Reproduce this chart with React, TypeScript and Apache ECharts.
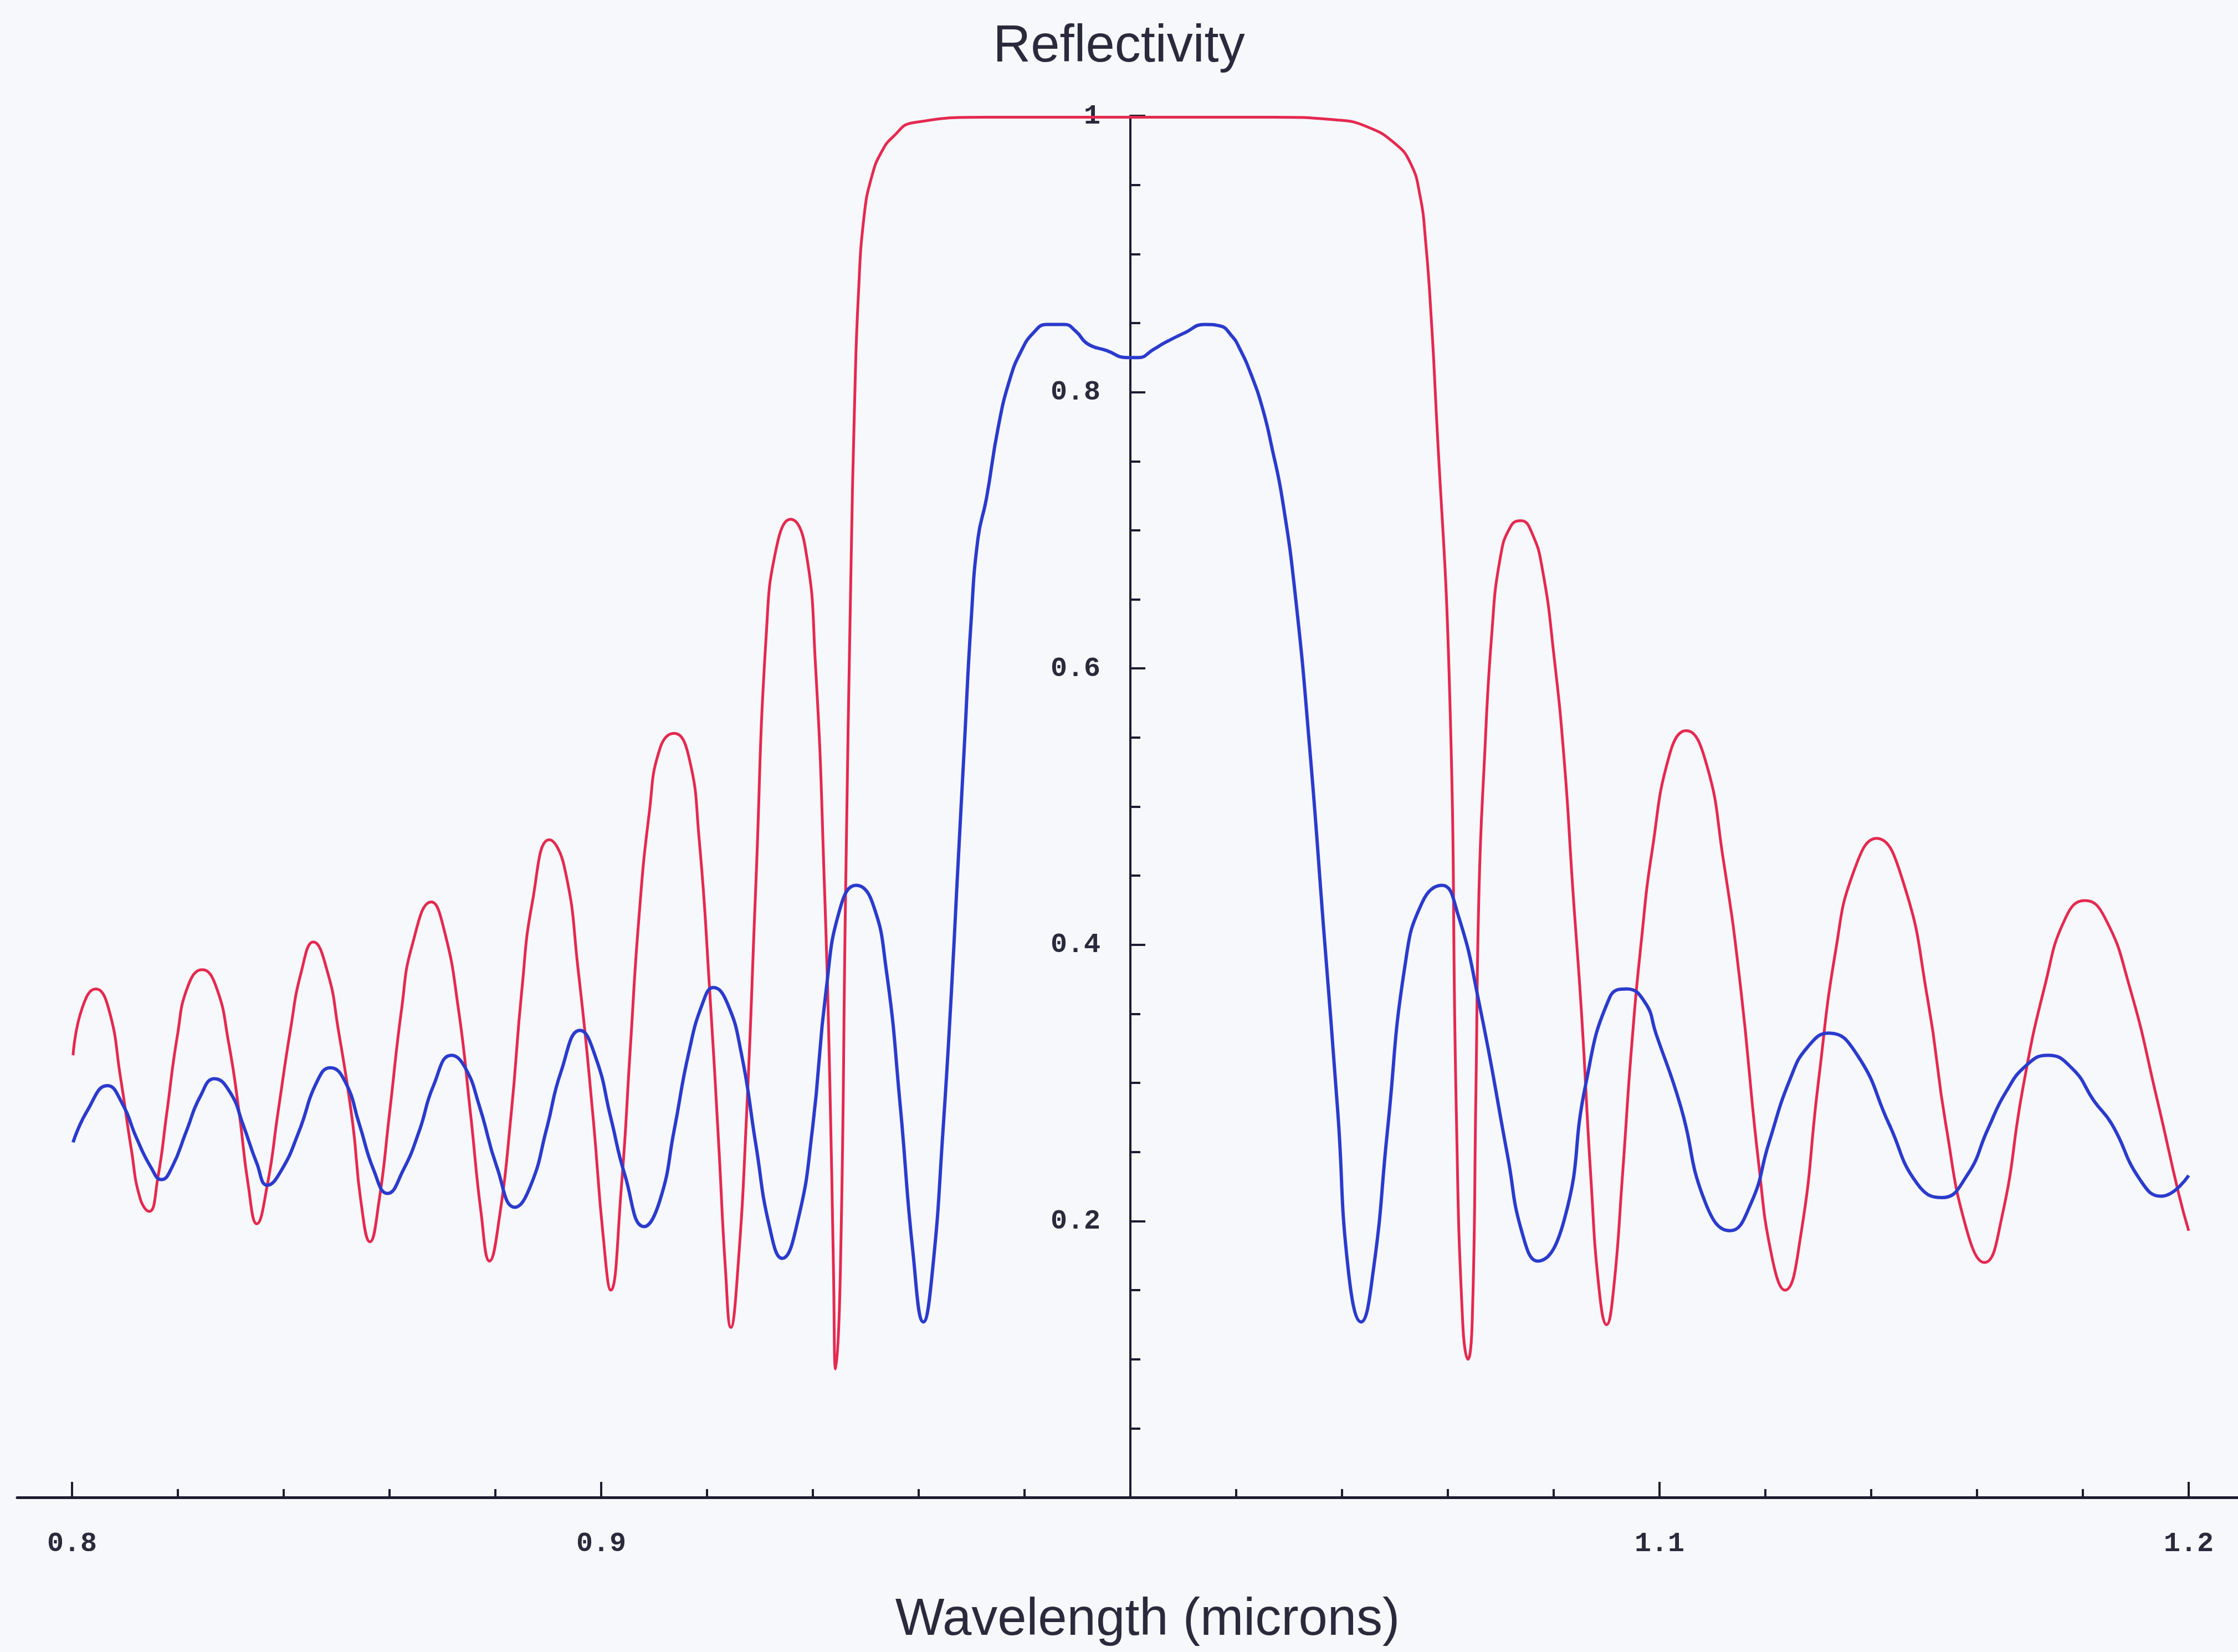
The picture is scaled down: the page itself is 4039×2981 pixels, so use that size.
import React, { useEffect, useRef } from "react";
import * as echarts from "echarts";

// ---------- data (wavelength in microns, reflectivity) ----------
const redCurve: number[][] = [
  [0.8002, 0.320], [0.8019, 0.354], [0.8045, 0.368], [0.8069, 0.354], [0.8092, 0.303], [0.8112, 0.252], [0.8129, 0.216], [0.8146, 0.207],
  [0.8162, 0.231], [0.8179, 0.278], [0.8199, 0.334], [0.8219, 0.370], [0.8246, 0.382], [0.8272, 0.370], [0.8296, 0.329], [0.8316, 0.278],
  [0.8333, 0.226], [0.8349, 0.198], [0.8369, 0.226], [0.8389, 0.278], [0.8413, 0.339], [0.8433, 0.380], [0.8456, 0.402], [0.8483, 0.380],
  [0.8503, 0.339], [0.8530, 0.272], [0.8546, 0.214], [0.8563, 0.185], [0.8580, 0.214], [0.8600, 0.278], [0.8623, 0.354], [0.8643, 0.400],
  [0.8679, 0.431], [0.8703, 0.411], [0.8730, 0.354], [0.8753, 0.278], [0.8773, 0.206], [0.8789, 0.171], [0.8807, 0.201], [0.8830, 0.278],
  [0.8850, 0.367], [0.8870, 0.431], [0.8902, 0.476], [0.8930, 0.457], [0.8957, 0.380], [0.8984, 0.278], [0.9004, 0.188],
  [0.9018, 0.150], [0.9038, 0.224], [0.9055, 0.325], [0.9071, 0.418], [0.9091, 0.496], [0.9111, 0.542], [0.9138, 0.553], [0.9165, 0.537],
  [0.9185, 0.477], [0.9205, 0.367], [0.9222, 0.256], [0.9235, 0.164], [0.9245, 0.123], [0.9258, 0.164], [0.9275, 0.279], [0.9292, 0.441],
  [0.9312, 0.625], [0.9332, 0.689], [0.9358, 0.708], [0.9385, 0.689], [0.9405, 0.602], [0.9422, 0.441], [0.9432, 0.302], [0.9439, 0.164],
  [0.9443, 0.093], [0.9452, 0.164], [0.9462, 0.441], [0.9472, 0.671],
  [0.9479, 0.794], [0.9486, 0.870], [0.9497, 0.928], [0.9512, 0.957], [0.9530, 0.974], [0.9552, 0.985], [0.9589, 0.995], [0.9728, 0.999],
  [1.0265, 0.999], [1.0390, 0.997], [1.0448, 0.992], [1.0500, 0.980], [1.0529, 0.966], [1.0547, 0.943], [1.0558, 0.909], [1.0569, 0.851],
  [1.0577, 0.794],
  [1.0603, 0.588], [1.0616, 0.279], [1.0628, 0.127], [1.0638, 0.100], [1.0646, 0.127], [1.0653, 0.293], [1.0659, 0.441], [1.0669, 0.533],
  [1.0683, 0.625], [1.0699, 0.680], [1.0719, 0.703], [1.0738, 0.707], [1.0759, 0.698], [1.0779, 0.671], [1.0800, 0.611], [1.0820, 0.533],
  [1.0836, 0.441], [1.0853, 0.348], [1.0870, 0.233], [1.0886, 0.150], [1.0900, 0.125], [1.0913, 0.150], [1.0930, 0.233], [1.0947, 0.325],
  [1.0966, 0.404], [1.0986, 0.468],
  [1.1020, 0.539], [1.1050, 0.555], [1.1087, 0.533], [1.1120, 0.463], [1.1153, 0.370], [1.1187, 0.243], [1.1213, 0.173], [1.1237, 0.150],
  [1.1267, 0.190], [1.1300, 0.300], [1.1333, 0.396], [1.1367, 0.453], [1.1410, 0.477], [1.1460, 0.446], [1.1507, 0.360], [1.1541, 0.270],
  [1.1581, 0.193], [1.1614, 0.170], [1.1647, 0.203], [1.1687, 0.297], [1.1728, 0.370], [1.1768, 0.420], [1.1804, 0.432], [1.1841, 0.420],
  [1.1888, 0.370], [1.1941, 0.287], [1.1981, 0.220], [1.2000, 0.193],
];

const blueCurve: number[][] = [
  [0.8002, 0.257], [0.8029, 0.280], [0.8067, 0.298], [0.8095, 0.285], [0.8122, 0.260], [0.8149, 0.239], [0.8169, 0.230], [0.8189, 0.239],
  [0.8216, 0.265], [0.8242, 0.290], [0.8269, 0.303], [0.8299, 0.293], [0.8323, 0.270], [0.8349, 0.242], [0.8369, 0.226], [0.8396, 0.237],
  [0.8429, 0.265], [0.8463, 0.301], [0.8488, 0.311], [0.8516, 0.301], [0.8543, 0.270], [0.8570, 0.237], [0.8596, 0.220], [0.8626, 0.237],
  [0.8656, 0.265], [0.8683, 0.298], [0.8717, 0.320], [0.8743, 0.311], [0.8770, 0.283], [0.8803, 0.239], [0.8837, 0.210], [0.8867, 0.226],
  [0.8897, 0.267], [0.8924, 0.308], [0.8960, 0.338], [0.8990, 0.318],
  [0.9018, 0.275], [0.9045, 0.233], [0.9081, 0.196], [0.9111, 0.215], [0.9138, 0.266], [0.9165, 0.321], [0.9192, 0.358], [0.9212, 0.369],
  [0.9238, 0.358], [0.9265, 0.321], [0.9292, 0.256], [0.9318, 0.196], [0.9342, 0.173], [0.9372, 0.201], [0.9399, 0.266], [0.9425, 0.367],
  [0.9452, 0.427], [0.9482, 0.443], [0.9512, 0.431], [0.9539, 0.381], [0.9565, 0.284], [0.9589, 0.178], [0.9609, 0.127], [0.9626, 0.164],
  [0.9646, 0.266], [0.9662, 0.367], [0.9672, 0.441], [0.9686, 0.542], [0.9699, 0.634], [0.9712, 0.694],
  [0.9728, 0.723], [0.9750, 0.774], [0.9772, 0.809], [0.9794, 0.830], [0.9817, 0.843], [0.9842, 0.849], [0.9875, 0.849], [0.9897, 0.844],
  [0.9919, 0.835], [0.9956, 0.830], [0.9993, 0.825], [1.0015, 0.825], [1.0044, 0.831], [1.0066, 0.836], [1.0103, 0.843], [1.0140, 0.849],
  [1.0169, 0.848], [1.0191, 0.841], [1.0206, 0.832], [1.0228, 0.813], [1.0250, 0.788], [1.0268, 0.759], [1.0287, 0.723],
  [1.0312, 0.652], [1.0339, 0.542], [1.0365, 0.413], [1.0392, 0.279], [1.0412, 0.164], [1.0436, 0.127], [1.0459, 0.164], [1.0486, 0.266],
  [1.0519, 0.385], [1.0552, 0.431], [1.0589, 0.443], [1.0619, 0.422], [1.0659, 0.358], [1.0713, 0.247], [1.0740, 0.192], [1.0770, 0.171],
  [1.0820, 0.201], [1.0860, 0.298], [1.0906, 0.362], [1.0938, 0.368], [1.0973, 0.358],
  [1.0993, 0.336], [1.1040, 0.283], [1.1087, 0.213], [1.1133, 0.193], [1.1173, 0.213], [1.1207, 0.257], [1.1247, 0.303], [1.1280, 0.326],
  [1.1320, 0.336], [1.1374, 0.320], [1.1434, 0.270], [1.1487, 0.227], [1.1534, 0.217], [1.1581, 0.233], [1.1621, 0.267], [1.1654, 0.293],
  [1.1694, 0.313], [1.1734, 0.320], [1.1781, 0.310], [1.1821, 0.287], [1.1855, 0.270], [1.1908, 0.230], [1.1948, 0.218], [1.2000, 0.233],
];

const xRange = [0.8, 1.2];
const xTickStep = 0.1;
const yRange = [0, 1];
const yTickStep = 0.2;
const yAxisAt = 1.0; // vertical axis crosses at this wavelength
const titleText = "Reflectivity";
const xAxisTitle = "Wavelength (microns)";

// ---------- layout ----------
const W = 4039;
const H = 2981;
const GRID_LEFT = 130;
const GRID_W = 3820;
const GRID_TOP = 209;
const GRID_H = 2493;
const LINE_LEFT = 31; // extended x-axis line
const LINE_RIGHT = W;
const AXIS_COLOR = "#1d1d30";
const TEXT_COLOR = "#2a2a3c";
const BG = "#f6f8fc";
const RED = "#e5294f";
const BLUE = "#2b3bcc";

export default function App() {
  const ref = useRef<HTMLDivElement>(null);
  useEffect(() => {
    if (!ref.current) return;
    const chart = echarts.init(ref.current, undefined, { renderer: "svg" });
    const pxPerUnit = GRID_W / (xRange[1] - xRange[0]);
    const lineMin = xRange[0] - (GRID_LEFT - LINE_LEFT) / pxPerUnit;
    const lineMax = xRange[1] + (LINE_RIGHT - (GRID_LEFT + GRID_W)) / pxPerUnit;
    const yOffset = -((yAxisAt - xRange[0]) / (xRange[1] - xRange[0])) * GRID_W;
    const tickFont = {
      fontFamily: "Liberation Mono",
      fontWeight: "bold" as const,
      fontSize: 50,
      color: TEXT_COLOR,
    };
    chart.setOption({
      animation: false,
      backgroundColor: BG,
      title: {
        text: titleText,
        left: "center",
        top: 26,
        textStyle: {
          fontFamily: "Liberation Sans",
          fontWeight: "normal",
          fontSize: 94,
          color: TEXT_COLOR,
        },
      },
      grid: [
        { left: GRID_LEFT, top: GRID_TOP, width: GRID_W, height: GRID_H },
        { left: LINE_LEFT, top: GRID_TOP, width: LINE_RIGHT - LINE_LEFT, height: GRID_H },
      ],
      xAxis: [
        {
          type: "value",
          gridIndex: 0,
          min: xRange[0],
          max: xRange[1],
          interval: xTickStep,
          axisLine: { show: true, onZero: false, lineStyle: { color: AXIS_COLOR, width: 5 } },
          axisTick: { show: true, inside: true, length: 28, lineStyle: { color: AXIS_COLOR, width: 4 } },
          minorTick: { show: true, splitNumber: 5, length: 15, lineStyle: { color: AXIS_COLOR, width: 4 } },
          splitLine: { show: false },
          minorSplitLine: { show: false },
          axisLabel: {
            ...tickFont,
            margin: 58,
            formatter: (v: number) => (Math.abs(v - yAxisAt) < 1e-9 ? "" : v.toFixed(1)),
          },
        },
        {
          type: "value",
          gridIndex: 1,
          min: lineMin,
          max: lineMax,
          axisLine: { show: true, onZero: false, lineStyle: { color: AXIS_COLOR, width: 5 } },
          axisTick: { show: false },
          axisLabel: { show: false },
          splitLine: { show: false },
        },
      ],
      yAxis: [
        {
          type: "value",
          gridIndex: 0,
          min: yRange[0],
          max: yRange[1],
          interval: yTickStep,
          position: "left",
          offset: yOffset,
          axisLine: { show: true, onZero: false, lineStyle: { color: AXIS_COLOR, width: 4 } },
          axisTick: { show: true, inside: true, length: 27, lineStyle: { color: AXIS_COLOR, width: 4 } },
          minorTick: { show: true, splitNumber: 4, length: 18, lineStyle: { color: AXIS_COLOR, width: 4 } },
          splitLine: { show: false },
          minorSplitLine: { show: false },
          axisLabel: {
            ...tickFont,
            margin: 54,
            formatter: (v: number) => (v === 0 ? "" : v === 1 ? "1" : v.toFixed(1)),
          },
        },
        { type: "value", gridIndex: 1, min: yRange[0], max: yRange[1], show: false },
      ],
      graphic: [
        {
          type: "text",
          x: 2071,
          y: 2917,
          style: {
            text: xAxisTitle,
            fontFamily: "Liberation Sans",
            fontSize: 94,
            fill: TEXT_COLOR,
            align: "center",
            verticalAlign: "middle",
          },
        },
      ],
      series: [
        {
          type: "line",
          name: "red",
          xAxisIndex: 0,
          yAxisIndex: 0,
          data: redCurve,
          showSymbol: false,
          smooth: 0.5,
          lineStyle: { color: RED, width: 5 },
          z: 3,
        },
        {
          type: "line",
          name: "blue",
          xAxisIndex: 0,
          yAxisIndex: 0,
          data: blueCurve,
          showSymbol: false,
          smooth: 0.5,
          lineStyle: { color: BLUE, width: 6 },
          z: 4,
        },
      ],
    });
    return () => chart.dispose();
  }, []);
  return (
    <div
      ref={ref}
      style={{ position: "fixed", left: 0, top: 0, width: W, height: H }}
    />
  );
}
